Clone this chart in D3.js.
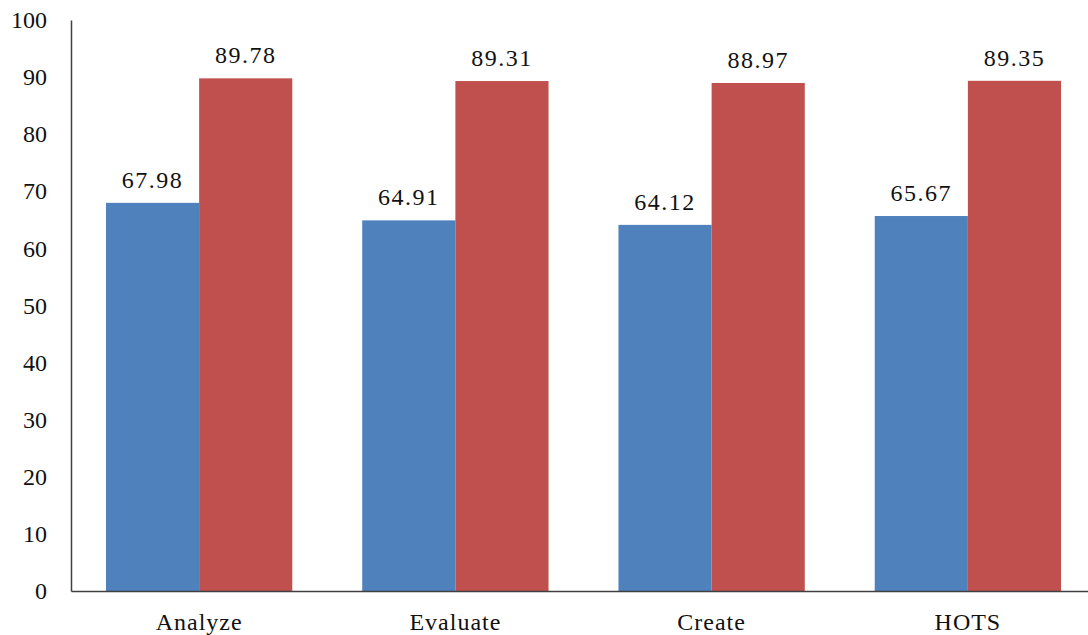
<!DOCTYPE html>
<html>
<head>
<meta charset="utf-8">
<script src="https://cdn.jsdelivr.net/npm/d3@7"></script>
<style>
  body { margin: 0; background: #fff; }
  svg text { font-family: "Liberation Serif", "Times New Roman", serif; fill: #111; }
</style>
</head>
<body>
<svg id="chart"></svg>
<script>
// chart values
const categories = ['Analyze', 'Evaluate', 'Create', 'HOTS'];
const seriesA = [67.98, 64.91, 64.12, 65.67];
const seriesB = [89.78, 89.31, 88.97, 89.35];
const yTicks = [0, 10, 20, 30, 40, 50, 60, 70, 80, 90, 100];

const width = 1088, height = 635;
const margin = { top: 20, right: -8, bottom: 44, left: 71 };
const innerW = width - margin.left - margin.right;
const innerH = height - margin.top - margin.bottom;

const svg = d3.select('#chart')
    .attr('width', width)
    .attr('height', height);

const g = svg.append('g')
    .attr('transform', `translate(${margin.left},${margin.top})`);

const x0 = d3.scaleBand()
    .domain(categories)
    .range([0, innerW])
    .paddingInner(0.273)
    .paddingOuter(0.1365);

const x1 = d3.scaleBand()
    .domain(['A', 'B'])
    .range([0, x0.bandwidth()]);

const y = d3.scaleLinear()
    .domain([0, 100])
    .range([innerH, 0]);

const rows = categories.map((c, i) => ({ cat: c, vals: [
    { key: 'A', v: seriesA[i], color: '#4F81BD' },
    { key: 'B', v: seriesB[i], color: '#C0504D' }
]}));

const groups = g.selectAll('g.cat')
    .data(rows)
    .enter().append('g')
    .attr('class', 'cat')
    .attr('transform', d => `translate(${x0(d.cat)},0)`);

groups.selectAll('rect')
    .data(d => d.vals)
    .enter().append('rect')
    .attr('x', d => x1(d.key))
    .attr('y', d => y(d.v))
    .attr('width', x1.bandwidth())
    .attr('height', d => innerH - y(d.v))
    .attr('fill', d => d.color);

groups.selectAll('text.val')
    .data(d => d.vals)
    .enter().append('text')
    .attr('class', 'val')
    .attr('x', d => x1(d.key) + x1.bandwidth() / 2)
    .attr('y', d => y(d.v) - 15)
    .attr('text-anchor', 'middle')
    .style('font-size', '24px')
    .style('letter-spacing', '1.5px')
    .text(d => d.v.toFixed(2));

// y axis
const yAxis = g.append('g')
    .call(d3.axisLeft(y).tickValues(yTicks).tickSize(0).tickPadding(24));
yAxis.select('.domain').attr('stroke', '#404040').attr('stroke-width', 1.5);
yAxis.selectAll('text').style('font-size', '24px');

// x axis
const xAxis = g.append('g')
    .attr('transform', `translate(0,${innerH})`)
    .call(d3.axisBottom(x0).tickSize(0).tickPadding(22));
xAxis.select('.domain').attr('stroke', '#404040').attr('stroke-width', 1.5);
xAxis.selectAll('text').style('font-size', '24px').style('letter-spacing', '1px');
</script>
</body>
</html>
